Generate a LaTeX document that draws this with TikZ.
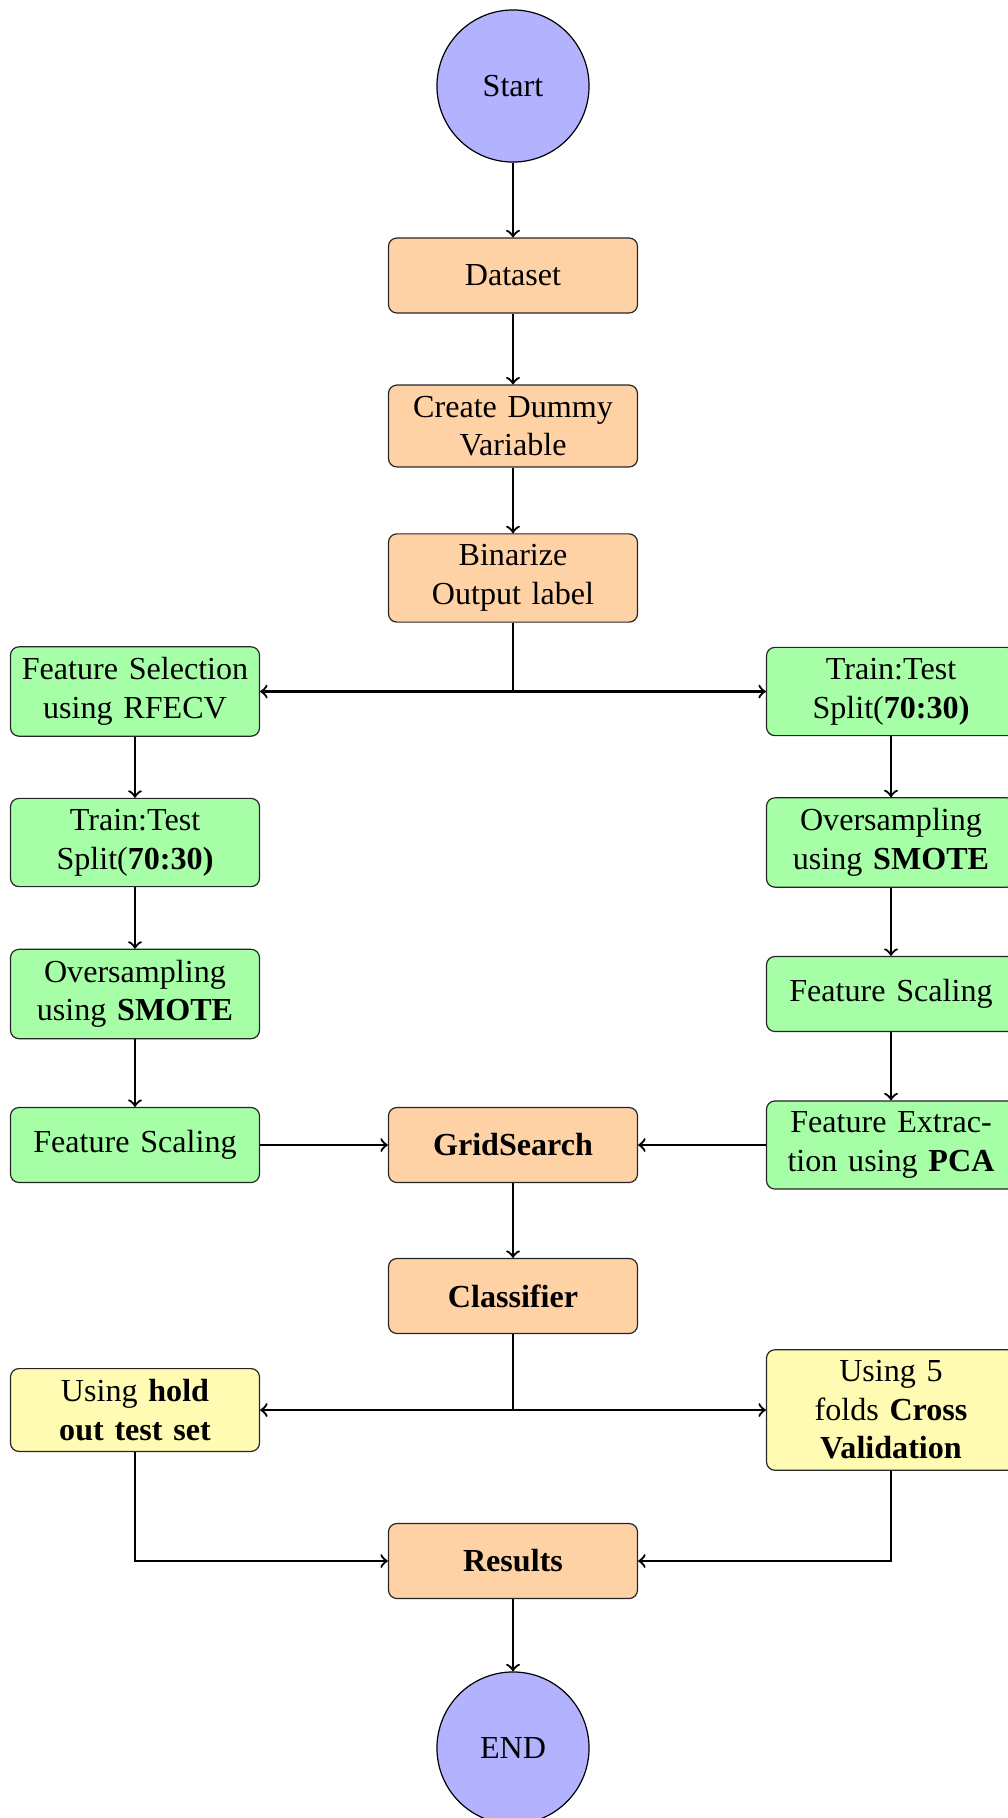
\documentclass[tikz,border=0pt]{standalone}
\usepackage{fontspec}
\setmainfont{Liberation Serif}
\usetikzlibrary{arrows}
\begin{document}
\begin{tikzpicture}[x=0.33333pt,y=-0.33333pt,
  base/.style={draw=black!85, rounded corners=2.8pt, text width=77pt, align=center,
    font=\fontsize{10.7pt}{12.85pt}\selectfont,
    inner xsep=3pt, inner ysep=3.6pt, minimum height=25pt},
  midbox/.style={base, fill=orange!35},
  grbox/.style={base, fill=green!35},
  yebox/.style={base, fill=yellow!30},
  term/.style={circle, draw=black, fill=blue!30, minimum size=50.7pt, inner sep=0pt,
    font=\fontsize{10.7pt}{12.85pt}\selectfont},
  conn/.style={->, line width=0.75pt}]
\useasboundingbox (0,0) rectangle (1008,1818);
\node[term] (start) at (513,86) {Start};
\node[midbox] (data) at (513,275.5) {Dataset};
\node[midbox] (dummy) at (513,426) {Create Dummy\\Variable};
\node[midbox] (bin) at (513,578) {Binarize\\Output label};
\node[grbox] (fs) at (135,691.5) {Feature Selection\\using RFECV};
\node[grbox] (ttr) at (891,691.5) {Train:Test\\Split(\textbf{70:30)}};
\node[grbox] (ttl) at (135,842.5) {Train:Test\\Split(\textbf{70:30)}};
\node[grbox] (osr) at (891,842.5) {Oversampling\\using \textbf{SMOTE}};
\node[grbox] (osl) at (135,994) {Oversampling\\using \textbf{SMOTE}};
\node[grbox] (fscr) at (891,994) {Feature Scaling};
\node[grbox] (fscl) at (135,1145) {Feature Scaling};
\node[midbox] (grid) at (513,1145) {\textbf{GridSearch}};
\node[grbox] (fe) at (891,1145) {Feature Extrac-\\tion using \textbf{PCA}};
\node[midbox] (cls) at (513,1296) {\textbf{Classifier}};
\node[yebox] (hold) at (135,1410) {Using \textbf{hold}\\\textbf{out test set}};
\node[yebox] (cv) at (891,1410) {Using 5\\folds \textbf{Cross}\\\textbf{Validation}};
\node[midbox] (res) at (513,1561) {\textbf{Results}};
\node[term] (end) at (513,1748) {END};
\draw[conn] (start) -- (data);
\draw[conn] (data) -- (dummy);
\draw[conn] (dummy) -- (bin);
\draw[conn] (bin.south) |- (fs.east);
\draw[conn] (bin.south) |- (ttr.west);
\draw[conn] (fs) -- (ttl);
\draw[conn] (ttl) -- (osl);
\draw[conn] (osl) -- (fscl);
\draw[conn] (ttr) -- (osr);
\draw[conn] (osr) -- (fscr);
\draw[conn] (fscr) -- (fe);
\draw[conn] (fscl) -- (grid);
\draw[conn] (fe) -- (grid);
\draw[conn] (grid) -- (cls);
\draw[conn] (cls.south) |- (hold.east);
\draw[conn] (cls.south) |- (cv.west);
\draw[conn] (hold.south) |- (res.west);
\draw[conn] (cv.south) |- (res.east);
\draw[conn] (res) -- (end);
\end{tikzpicture}
\end{document}
